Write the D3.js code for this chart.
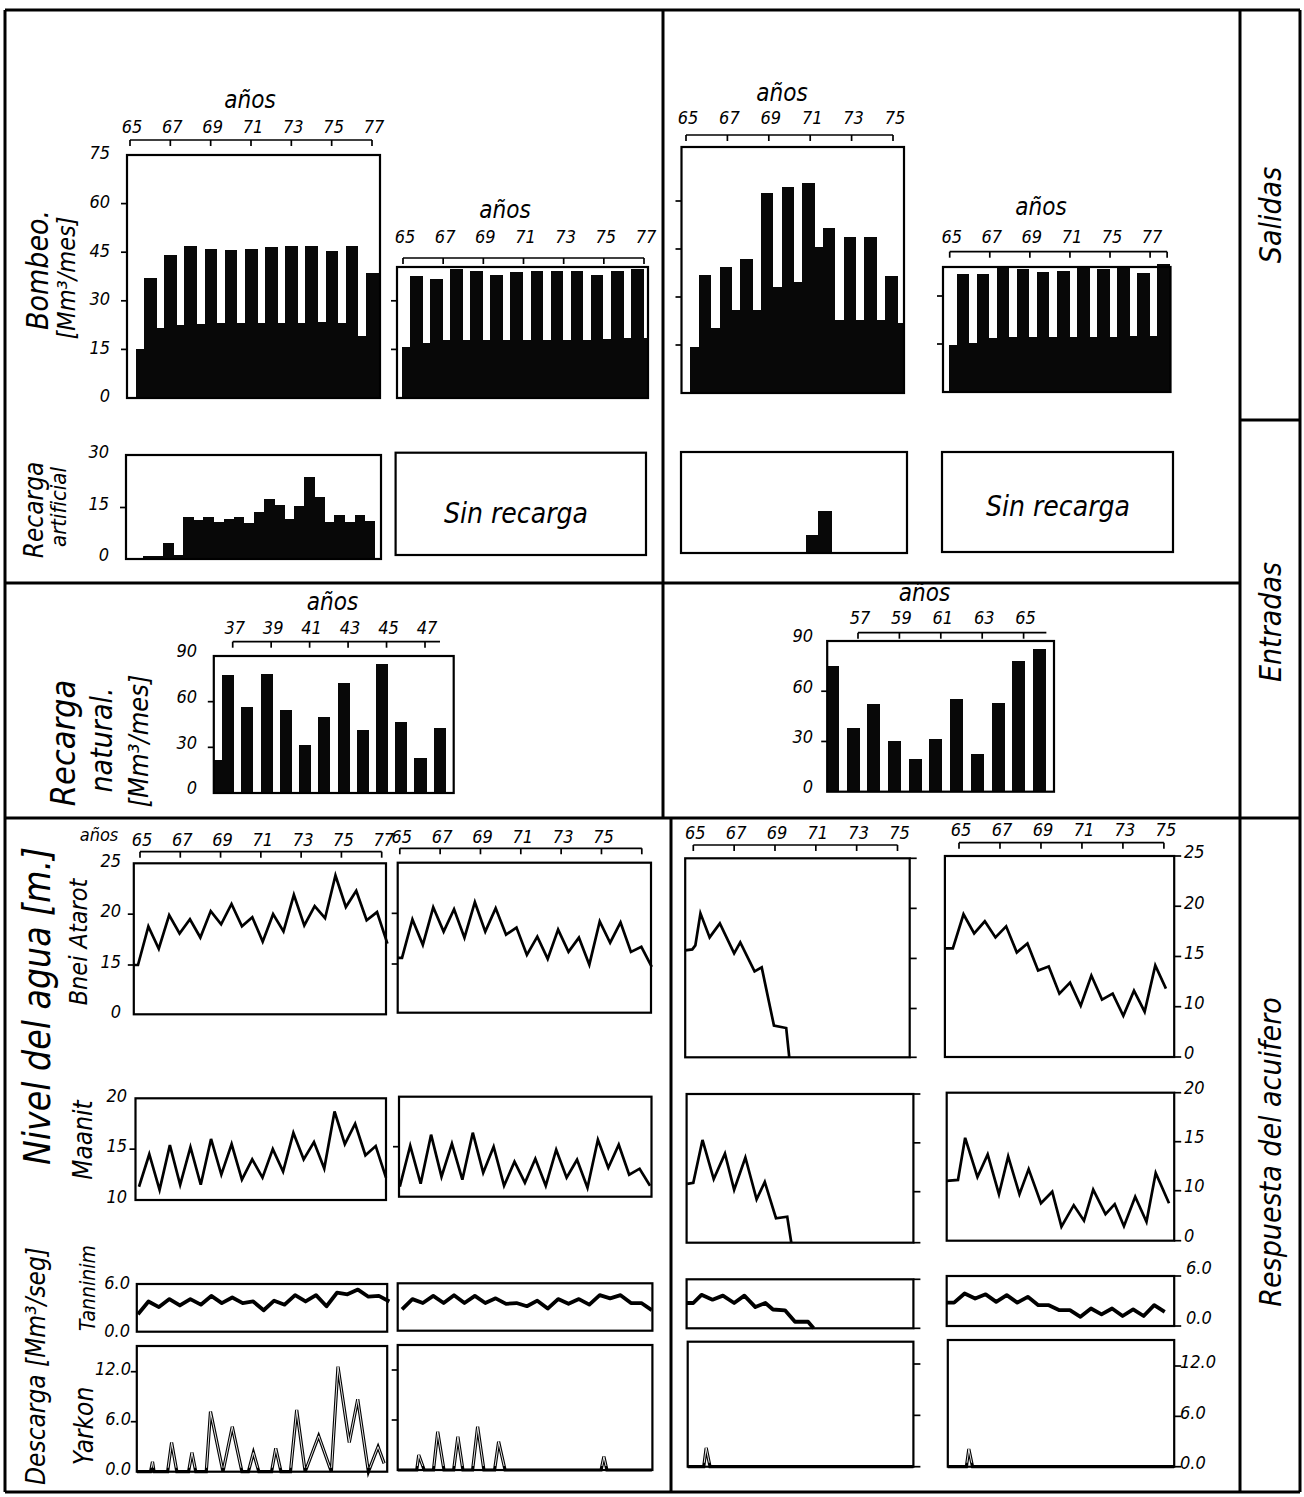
<!DOCTYPE html>
<html lang="es">
<head>
<meta charset="UTF-8">
<title>Balance del acuífero</title>
<script src="https://d3js.org/d3.v7.min.js"></script>
<style>
  body { margin: 0; background: #fff; }
  svg { display: block; background: #fff; }
  text { font-family: "DejaVu Sans Condensed", "DejaVu Sans", sans-serif; font-style: oblique; fill: #000; }
  .frame { fill: none; stroke: #000; stroke-width: 2.2; }
  .rule { stroke: #000; stroke-width: 3; }
  .tick, .br { stroke: #000; stroke-width: 1.7; }
  .bar { fill: #080808; shape-rendering: crispEdges; }
  .level { fill: none; stroke: #000; stroke-width: 2.7; stroke-linejoin: miter; }
  .thick { fill: none; stroke: #000; stroke-width: 3.8; stroke-linejoin: round; }
  .peak { fill: none; stroke: #000; stroke-width: 3.2; stroke-linejoin: miter; }
  .peakIn { fill: none; stroke: #fff; stroke-width: 0.9; stroke-linejoin: miter; }
  .lbl { font-size: 18px; }
  .yl { font-size: 18px; }
  .anos { font-size: 24px; }
</style>
</head>
<body>
<div id="chart"></div>
<script>
// ---- data ----
// Bombeo (Mm3/mes): semestre bajo / semestre alto
const bombeoAL = [15, 21.5, 22.5, 22.7, 23, 23, 23, 23, 23, 23.5, 23, 19, 20];
const bombeoAH = [37, 44, 47, 46, 45.7, 46, 46.5, 47, 47, 45.5, 47, 38.7];
const bombeoBL = [15.8, 17, 18, 18, 18, 18, 18, 18, 18, 18, 18.3, 18.5, 18.5];
const bombeoBH = [37.6, 36.8, 39.8, 39.2, 38, 39, 39.3, 39.3, 39.3, 38, 39.3, 39.8];
const bombeoCL = [14.5, 20.3, 26, 26, 33.2, 34.7, 45.6, 22.8, 22.8, 22.8, 22];
const bombeoCH = [36.9, 39.5, 42, 62.6, 64.5, 65.7, 51.5, 48.8, 48.8, 36.5];
const bombeoDL = [14.7, 15.4, 17, 17.1, 17.1, 17.1, 17.3, 17.3, 17.3, 17.5, 17.5];
const bombeoDH = [36.9, 36.9, 39.2, 38.3, 37.6, 37.9, 38.6, 38.3, 38.6, 37.3, 40];

// Recarga artificial (semestral)
const recargaA = [0.9, 0.9, 4.6, 1.2, 12.3, 11.3, 12.3, 10.7, 11.7, 12.3, 10.5, 13.8,
                  17.5, 15.7, 11.6, 15.4, 23.9, 18, 10.9, 12.8, 10.9, 12.8, 11.2];
const recargaC = [5.3, 12.5];

// Recarga natural (Mm3/mes)
const naturalALead = 21.7;
const naturalA = [77.5, 56.7, 78, 54.5, 31.5, 50, 72, 41.4, 84.8, 46.8, 23.2, 42.5];
const naturalB = [75, 37.9, 52.4, 30.5, 19.5, 31.3, 55.4, 22.5, 53.2, 78.3, 85.3];

// Nivel del agua, Bnei Atarot (m)
const atarotA = [15, 18.8, 16.6, 19.9, 18.1, 19.5, 17.7, 20.3, 19, 21.0, 18.8, 19.7, 17.3,
                 20, 18.3, 21.9, 18.9, 20.8, 19.6, 23.8, 20.7, 22.3, 19.4, 20.2, 17.1];
const atarotB = [15.6, 19.4, 16.9, 20.6, 18.2, 20.4, 17.6, 21.1, 18.2, 20.5, 17.9, 18.6, 15.9,
                 17.7, 15.5, 18.4, 16.2, 17.6, 14.8, 19.2, 17.1, 19.1, 16.2, 16.7, 14.1];
const atarotCT = [64.6, 64.95, 65.1, 65.35, 65.8, 66.3, 67.0, 67.3, 68.0, 68.35, 68.95, 69.55, 69.7];
const atarotCV = [15.8, 15.9, 16.3, 19.5, 17.1, 18.5, 15.5, 16.6, 13.7, 14.1, 6.5, 6.0, 0];
const atarotD = [15.8, 19.2, 17.3, 18.5, 16.9, 18.0, 15.4, 16.3, 13.6, 14.0, 11.3, 12.4, 10.1,
                 13.1, 10.7, 11.3, 8.2, 11.6, 9.0, 14.1, 11.8];

// Nivel del agua, Maanit (m)
const maanitA = [11.3, 14.5, 11.0, 15.4, 11.5, 15.2, 11.5, 16.0, 12.5, 15.5, 12.0, 14.0, 12.2,
                 15.0, 12.8, 16.6, 14.0, 15.7, 13.1, 18.7, 15.5, 17.5, 14.4, 15.3, 12.2];
const maanitB = [11.0, 15.1, 11.3, 16.2, 12.0, 15.3, 11.7, 16.4, 12.4, 15.0, 11.1, 13.5, 11.4,
                 13.8, 11.1, 14.7, 11.9, 13.7, 10.9, 15.7, 12.9, 15.2, 12.2, 12.8, 11.1];
const maanitCT = [64.7, 65.0, 65.45, 66.0, 66.55, 67.0, 67.55, 68.1, 68.5, 69.05, 69.6, 69.8];
const maanitCV = [10.8, 10.9, 15.3, 11.3, 13.9, 10.2, 13.5, 8.5, 11.0, 4.8, 5.1, 0];
const maanitDT = [64.4, 64.95, 65.3, 65.9, 66.4, 66.95, 67.4, 67.95, 68.4, 69.0, 69.55, 70.0,
                  70.6, 71.1, 71.55, 72.15, 72.6, 73.05, 73.6, 74.15, 74.6, 75.25];
const maanitDV = [11.0, 11.1, 15.4, 11.4, 13.7, 9.3, 13.5, 9.3, 12.2, 7.5, 9.8, 2.8,
                  7.1, 4.0, 10.1, 5.3, 7.3, 2.9, 8.8, 3.8, 11.8, 7.5];

// Descarga Tanninim (Mm3/seg)
const tanninimA = [2.2, 3.8, 3.1, 4.1, 3.3, 4.1, 3.4, 4.5, 3.6, 4.3, 3.6, 3.8, 2.7,
                   3.9, 3.4, 4.6, 3.8, 4.6, 3.2, 4.9, 4.7, 5.3, 4.4, 4.5, 3.8];
const tanninimB = [2.7, 4.0, 3.5, 4.4, 3.5, 4.5, 3.5, 4.4, 3.5, 4.1, 3.4, 3.5, 3.1,
                   3.8, 2.8, 4.0, 3.4, 4.0, 3.3, 4.5, 4.1, 4.5, 3.5, 3.5, 2.6];
const tanninimCT = [64.67, 65.0, 65.4, 65.94, 66.45, 67.0, 67.5, 68.04, 68.53, 68.9, 69.49, 69.98, 70.62, 70.89];
const tanninimCV = [3.1, 3.1, 4.1, 3.5, 4.0, 3.1, 4.0, 2.6, 3.1, 2.3, 2.2, 0.8, 0.8, 0];
const tanninimD = [2.8, 3.9, 3.3, 3.8, 2.9, 3.7, 2.8, 3.5, 2.5, 2.5, 1.9, 1.9, 1.1, 2.1, 1.4,
                   2.1, 1.2, 2.0, 1.2, 2.5, 1.7];

// Descarga Yarkon (Mm3/seg)
const yarkonAT = [64.85, 65.52, 65.62, 65.7, 66.37, 66.57, 66.83, 67.41, 67.58, 67.77, 68.29, 68.5,
                  69.12, 69.58, 70.06, 70.38, 70.63, 70.9, 71.53, 71.74, 72.0, 72.47, 72.78, 73.2,
                  73.87, 74.5, 74.83, 75.39, 75.81, 76.34, 76.82, 77.12];
const yarkonAV = [0, 0, 1.2, 0, 0, 3.5, 0, 0, 2.3, 0, 0, 7.2, 0, 5.4, 0, 0, 2.3, 0, 0, 2.8, 0,
                  0, 7.4, 0, 4.3, 0, 12.6, 3.5, 8.7, 0, 3.0, 1.0];
const yarkonBT = [64.9, 65.84, 65.94, 66.21, 66.67, 66.88, 67.19, 67.67, 67.88, 68.13, 68.61, 68.86,
                  69.17, 69.7, 69.9, 70.22, 74.98, 75.12, 75.27, 77.5];
const yarkonBV = [0, 0, 1.8, 0, 0, 4.6, 0, 0, 4.0, 0, 0, 5.2, 0, 0, 3.4, 0, 0, 1.6, 0, 0];
const yarkonCT = [64.73, 65.51, 65.63, 65.82, 75.78];
const yarkonCV = [0, 0, 2.2, 0, 0];
const yarkonDT = [64.45, 65.36, 65.48, 65.66, 75.5];
const yarkonDV = [0, 0, 2.1, 0, 0];

// tick values and labels
const bombeoTicks = [0, 15, 30, 45, 60, 75];
const recargaTicks = [0, 15, 30];
const naturalTicks = [0, 30, 60, 90];
const atarotTicks = [0, 15, 20, 25];
const atarotTicksR = [0, 10, 15, 20, 25];
const maanitTicks = [10, 15, 20];
const maanitTicksR = [0, 10, 15, 20];
const descargaTicks = [0, 6];
const yarkonTicks = [0, 6, 12];
const years65to77 = [65, 67, 69, 71, 73, 75, 77];
const years65to75 = [65, 67, 69, 71, 73, 75];
const yearsNaturalA = [37, 39, 41, 43, 45, 47];
const yearsNaturalB = [57, 59, 61, 63, 65];
const labelsBombeoD = ["65", "67", "69", "71", "75", "77"];

// ---- drawing ----
const svg = d3.select("#chart").append("svg")
  .attr("width", 1304).attr("height", 1497);

function panel(o) {
  const g = svg.append("g");
  const x = d3.scaleLinear().domain(o.xd).range(o.xr);
  const y = d3.scaleLinear().domain(o.yd).range(o.yr);
  return { g, x, y, box: o.box };
}

function frame(P) {
  const [L, T, R, B] = P.box;
  P.g.append("rect").attr("class", "frame")
    .attr("x", L).attr("y", T).attr("width", R - L).attr("height", B - T);
}

function yTicks(P, side, vals) {
  const [L, , R] = P.box;
  const x0 = side === "left" ? L : R;
  const dx = side === "left" ? -6 : 7;
  P.g.selectAll(null).data(vals).join("line").attr("class", "tick")
    .attr("x1", x0).attr("x2", x0 + dx)
    .attr("y1", d => P.y(d)).attr("y2", d => P.y(d));
}

function yLabels(P, side, vals, fmt, lx, dy) {
  P.g.selectAll(null).data(vals).join("text").attr("class", "yl")
    .attr("x", lx).attr("y", d => P.y(d) + dy).attr("dy", "0.35em")
    .attr("text-anchor", side === "left" ? "end" : "start")
    .text(fmt);
}

function bracket(P, yp, ext, ticks, labels, ly) {
  P.g.append("line").attr("class", "br")
    .attr("x1", P.x(ext[0])).attr("x2", P.x(ext[1])).attr("y1", yp).attr("y2", yp);
  P.g.selectAll(null).data(ticks).join("line").attr("class", "br")
    .attr("x1", d => P.x(d)).attr("x2", d => P.x(d)).attr("y1", yp).attr("y2", yp + 6);
  P.g.selectAll(null).data(labels).join("text").attr("class", "lbl")
    .attr("x", (d, i) => P.x(ticks[i]) + 2).attr("y", ly).attr("dy", "0.35em")
    .attr("text-anchor", "middle").text(d => d);
}

function anos(x, y, size) {
  svg.append("text").attr("class", "anos").attr("x", x).attr("y", y)
    .attr("dy", "0.35em").attr("text-anchor", "middle")
    .style("font-size", (size || 24) + "px").text("años");
}

function rects(P, segs) {
  const [L, , R] = P.box;
  P.g.selectAll(null).data(segs).join("rect").attr("class", "bar")
    .attr("x", d => Math.max(L, P.x(d.t)))
    .attr("width", d => Math.max(0, Math.min(R, P.x(d.t + d.w)) - Math.max(L, P.x(d.t)) + 0.6))
    .attr("y", d => P.y(d.v))
    .attr("height", d => P.y(0) - P.y(d.v));
}

// winter (low) and summer (high) half-year bars
function pairedBars(P, lows, highs, t0, lowW) {
  const segs = [];
  lows.forEach((v, i) => segs.push({ t: t0 + i, w: i === lows.length - 1 ? 1 : lowW, v }));
  highs.forEach((v, i) => segs.push({ t: t0 + i + lowW, w: 1 - lowW, v }));
  rects(P, segs);
}

function stepBars(P, vals, t0, step) {
  rects(P, vals.map((v, i) => ({ t: t0 + i * step, w: step, v })));
}

function yearBars(P, vals, c0, w) {
  rects(P, vals.map((v, i) => ({ t: c0 + i - w / 2, w, v })));
}

function line(P, T, V, cls, lead) {
  const pts = T.map((t, i) => [P.x(t), P.y(V[i])]);
  if (lead) pts.unshift([P.box[0], P.y(V[0])]);
  return P.g.append("path").attr("class", cls).attr("d", d3.line()(pts));
}

function grid(vals, t0, dt) { return vals.map((_, i) => t0 + i * dt); }

function peaks(P, T, V, id) {
  const [L, T0, R, B] = P.box;
  line(P, T, V, "peak");
  svg.append("clipPath").attr("id", id).append("rect")
    .attr("x", L).attr("y", T0).attr("width", R - L).attr("height", B - T0 - 4);
  line(P, T, V, "peakIn").attr("clip-path", `url(#${id})`);
}

function vtext(x, y, txt, size) {
  svg.append("text").attr("transform", `translate(${x},${y}) rotate(-90)`)
    .attr("text-anchor", "middle").attr("dy", "0.35em")
    .style("font-size", size + "px").text(txt);
}

const f0 = d => d;
const f1 = d3.format(".1f");

// ---- Salidas: Bombeo ----
const p1 = panel({ box: [127, 155, 380, 398], xd: [65, 77], xr: [130, 372], yd: [0, 75], yr: [398, 155] });
pairedBars(p1, bombeoAL, bombeoAH, 65.3, 0.4);
frame(p1);
yTicks(p1, "left", [15, 30, 45, 60]);
yLabels(p1, "left", bombeoTicks, f0, 110, -2);
bracket(p1, 140, [65, 77], years65to77, years65to77.map(String), 127);
anos(250, 100);

const p2 = panel({ box: [397, 267, 648, 398], xd: [65, 77], xr: [403, 644], yd: [0, 75], yr: [398, 155] });
pairedBars(p2, bombeoBL, bombeoBH, 64.95, 0.4);
frame(p2);
yTicks(p2, "left", [15, 30]);
bracket(p2, 258, [65, 77], years65to77, years65to77.map(String), 237);
anos(505, 210);

const p3 = panel({ box: [681.5, 147, 904, 393], xd: [65, 75], xr: [686, 893], yd: [0, 75], yr: [393, 153] });
pairedBars(p3, bombeoCL, bombeoCH, 65.19, 0.43);
frame(p3);
yTicks(p3, "left", [15, 30, 45, 60]);
bracket(p3, 135, [65, 75], years65to75, years65to75.map(String), 118);
anos(782, 93);

const p4 = panel({ box: [943, 267, 1170.5, 392], xd: [65, 75], xr: [949.7, 1150.1], yd: [0, 75], yr: [392, 152] });
pairedBars(p4, bombeoDL, bombeoDH, 64.95, 0.4);
frame(p4);
yTicks(p4, "left", [15, 30]);
bracket(p4, 251.7, [65, 75.85], years65to75.concat([75.85]), labelsBombeoD, 237);
anos(1041, 207);

// ---- Salidas: Recarga artificial ----
const p5 = panel({ box: [126, 455, 381, 559], xd: [65, 77], xr: [130, 372], yd: [0, 30], yr: [559, 456] });
stepBars(p5, recargaA, 65.64, 0.5);
frame(p5);
yTicks(p5, "left", [15]);
yLabels(p5, "left", recargaTicks, f0, 109, -4);

const p6 = panel({ box: [395.6, 452.7, 646, 555], xd: [0, 1], xr: [0, 1], yd: [0, 1], yr: [0, 1] });
frame(p6);
p6.g.append("text").attr("x", 516).attr("y", 513).attr("dy", "0.35em")
  .attr("text-anchor", "middle").style("font-size", "28px").text("Sin recarga");

const p7 = panel({ box: [681, 452, 907, 553], xd: [65, 75], xr: [686, 893], yd: [0, 30], yr: [553, 452] });
stepBars(p7, recargaC, 70.8, 0.6);
frame(p7);

const p8 = panel({ box: [942, 452, 1173, 552], xd: [0, 1], xr: [0, 1], yd: [0, 1], yr: [0, 1] });
frame(p8);
p8.g.append("text").attr("x", 1058).attr("y", 506).attr("dy", "0.35em")
  .attr("text-anchor", "middle").style("font-size", "28px").text("Sin recarga");

// ---- Entradas: Recarga natural ----
const p9 = panel({ box: [213.8, 656, 453.7, 793], xd: [37, 47], xr: [232.7, 425], yd: [0, 90], yr: [793, 656] });
rects(p9, [{ t: p9.x.invert(213.8), w: 36.75 - 0.3 - p9.x.invert(213.8), v: naturalALead }]);
yearBars(p9, naturalA, 36.75, 0.6);
frame(p9);
yTicks(p9, "left", [30, 60]);
yLabels(p9, "left", naturalTicks, f0, 197, -5);
bracket(p9, 641.7, [37, 47.78], yearsNaturalA, yearsNaturalA.map(String), 628);
anos(332.5, 602);

const p10 = panel({ box: [827.2, 641, 1054, 791.7], xd: [57, 65], xr: [858, 1023.6], yd: [0, 90], yr: [791.7, 641] });
yearBars(p10, naturalB, 55.75, 0.6);
frame(p10);
yTicks(p10, "left", [30, 60]);
yLabels(p10, "left", naturalTicks, f0, 813, -5);
bracket(p10, 632.7, [57, 66.1], yearsNaturalB, yearsNaturalB.map(String), 618);
anos(924.5, 593);

// ---- Respuesta: Bnei Atarot ----
const p11 = panel({ box: [133.8, 863.3, 386, 1014.3], xd: [65, 77], xr: [140, 381.7], yd: [0, 15, 25], yr: [1014.3, 965, 863.3] });
frame(p11);
line(p11, grid(atarotA, 64.9, 0.516), atarotA, "level", true);
yTicks(p11, "left", [15, 20]);
yLabels(p11, "left", atarotTicks, f0, 121, -3);
bracket(p11, 851.7, [65, 77], years65to77, years65to77.map(String), 840);
anos(99, 835, 18);

const p12 = panel({ box: [397.7, 862.7, 651, 1012.7], xd: [65, 77], xr: [399.8, 641.8], yd: [0, 15, 25], yr: [1012.7, 964, 862.7] });
frame(p12);
line(p12, grid(atarotB, 65.11, 0.516), atarotB, "level", true);
yTicks(p12, "left", [15, 20]);
bracket(p12, 848.3, [65, 77], years65to77, years65to75.map(String), 837);

const p13 = panel({ box: [685.2, 858.3, 909.7, 1057.3], xd: [65, 75], xr: [693.3, 897.5], yd: [0, 10, 25], yr: [1057.3, 1008.5, 858.3] });
frame(p13);
line(p13, atarotCT, atarotCV, "level", false);
yTicks(p13, "right", atarotTicksR);
bracket(p13, 845, [65, 75], years65to75, years65to75.map(String), 833);

const p14 = panel({ box: [944.9, 856, 1174.2, 1057], xd: [65, 75], xr: [959, 1163.9], yd: [0, 10, 25], yr: [1057, 1006.7, 856] });
frame(p14);
line(p14, grid(atarotD, 64.7, 0.52), atarotD, "level", true);
yTicks(p14, "right", atarotTicksR);
yLabels(p14, "right", atarotTicksR, f0, 1184, -4);
bracket(p14, 842.7, [65, 75], years65to75, years65to75.map(String), 830);

// ---- Respuesta: Maanit ----
const p15 = panel({ box: [135.5, 1098.3, 386, 1200], xd: [65, 77], xr: [140, 381.7], yd: [10, 20], yr: [1200, 1098.3] });
frame(p15);
line(p15, grid(maanitA, 64.95, 0.511), maanitA, "level", false);
yTicks(p15, "left", [15]);
yLabels(p15, "left", maanitTicks, f0, 127, -3);

const p16 = panel({ box: [399, 1096.7, 651.5, 1196.7], xd: [65, 77], xr: [399.8, 641.8], yd: [10, 20], yr: [1196.7, 1096.7] });
frame(p16);
line(p16, grid(maanitB, 65.0, 0.517), maanitB, "level", false);
yTicks(p16, "left", [15]);

const p17 = panel({ box: [686.6, 1094, 913.4, 1242.7], xd: [65, 75], xr: [693.3, 897.5], yd: [0, 10, 20], yr: [1242.7, 1191.7, 1094] });
frame(p17);
line(p17, maanitCT, maanitCV, "level", false);
yTicks(p17, "right", maanitTicksR);

const p18 = panel({ box: [946.7, 1092.7, 1174.2, 1240.7], xd: [65, 75], xr: [959, 1163.9], yd: [0, 10, 20], yr: [1240.7, 1190.7, 1092.7] });
frame(p18);
line(p18, maanitDT, maanitDV, "level", false);
yTicks(p18, "right", maanitTicksR);
yLabels(p18, "right", maanitTicksR, f0, 1184, -5);

// ---- Respuesta: Tanninim ----
const p21 = panel({ box: [136.8, 1284, 387.2, 1331.7], xd: [65, 77], xr: [140, 381.7], yd: [0, 6], yr: [1331.7, 1284] });
frame(p21);
line(p21, grid(tanninimA, 64.9, 0.52), tanninimA, "thick", false);
yLabels(p21, "left", descargaTicks, f1, 130, -1);

const p22 = panel({ box: [397.7, 1283.3, 652.4, 1330.7], xd: [65, 77], xr: [399.8, 641.8], yd: [0, 6], yr: [1330.7, 1283.3] });
frame(p22);
line(p22, grid(tanninimB, 65.11, 0.516), tanninimB, "thick", false);

const p19 = panel({ box: [686.6, 1279.3, 913.4, 1328.3], xd: [65, 75], xr: [693.3, 897.5], yd: [0, 6], yr: [1328.3, 1279.3] });
frame(p19);
line(p19, tanninimCT, tanninimCV, "thick", false);
yTicks(p19, "right", descargaTicks);

const p20 = panel({ box: [946.7, 1276, 1174.2, 1326], xd: [65, 75], xr: [959, 1163.9], yd: [0, 6], yr: [1326, 1276] });
frame(p20);
line(p20, grid(tanninimD, 64.76, 0.514), tanninimD, "thick", true);
yTicks(p20, "right", descargaTicks);
yLabels(p20, "right", descargaTicks, f1, 1186, -8);

// ---- Respuesta: Yarkon ----
const p23 = panel({ box: [136.8, 1346, 387.2, 1471.7], xd: [65, 77], xr: [140, 381.7], yd: [0, 12], yr: [1471.7, 1371.7] });
frame(p23);
peaks(p23, yarkonAT, yarkonAV, "cy1");
yTicks(p23, "left", [6, 12]);
yLabels(p23, "left", yarkonTicks, f1, 131, -3);

const p24 = panel({ box: [397.7, 1345, 652.4, 1470], xd: [65, 77], xr: [399.8, 641.8], yd: [0, 12], yr: [1470, 1370] });
frame(p24);
peaks(p24, yarkonBT, yarkonBV, "cy2");
yTicks(p24, "left", [6, 12]);

const p25 = panel({ box: [687.7, 1341.7, 913.4, 1466.7], xd: [65, 75], xr: [693.3, 897.5], yd: [0, 12], yr: [1466.7, 1364] });
frame(p25);
peaks(p25, yarkonCT, yarkonCV, "cy3");
yTicks(p25, "right", [0, 6, 12]);

const p26 = panel({ box: [947.8, 1340, 1174.2, 1466.7], xd: [65, 75], xr: [959, 1163.9], yd: [0, 12], yr: [1466.7, 1366] });
frame(p26);
peaks(p26, yarkonDT, yarkonDV, "cy4");
yTicks(p26, "right", [0, 6, 12]);
yLabels(p26, "right", yarkonTicks, f1, 1180, -4);

// ---- layout rules ----
const rules = [
  [5, 10, 1300, 10], [5, 1492, 1300, 1492], [5, 10, 5, 1492], [1300, 10, 1300, 1492],
  [1240, 10, 1240, 1492], [1240, 420, 1300, 420], [1240, 818, 1300, 818],
  [5, 583, 1240, 583], [5, 818, 1240, 818], [663, 10, 663, 818], [671, 818, 671, 1492]
];
svg.selectAll(null).data(rules).join("line").attr("class", "rule")
  .attr("x1", d => d[0]).attr("y1", d => d[1]).attr("x2", d => d[2]).attr("y2", d => d[3]);

// ---- row and section titles ----
vtext(37, 270, "Bombeo.", 30);
vtext(66, 278, "[Mm³/mes]", 25);
vtext(34, 510, "Recarga", 26);
vtext(58, 507, "artificial", 22);
vtext(63, 743, "Recarga", 34);
vtext(101, 740, "natural.", 30);
vtext(139, 741, "[Mm³/mes]", 27);
vtext(37, 1006, "Nivel del agua [m.]", 37);
vtext(78, 942, "Bnei Atarot", 25);
vtext(83, 1140, "Maanit", 26);
vtext(36, 1366, "Descarga [Mm³/seg]", 26);
vtext(88, 1288, "Tanninim", 21);
vtext(84, 1426, "Yarkon", 26);
vtext(1270, 215, "Salidas", 30);
vtext(1270, 622, "Entradas", 30);
vtext(1270, 1152, "Respuesta del acuifero", 30);
</script>
</body>
</html>
